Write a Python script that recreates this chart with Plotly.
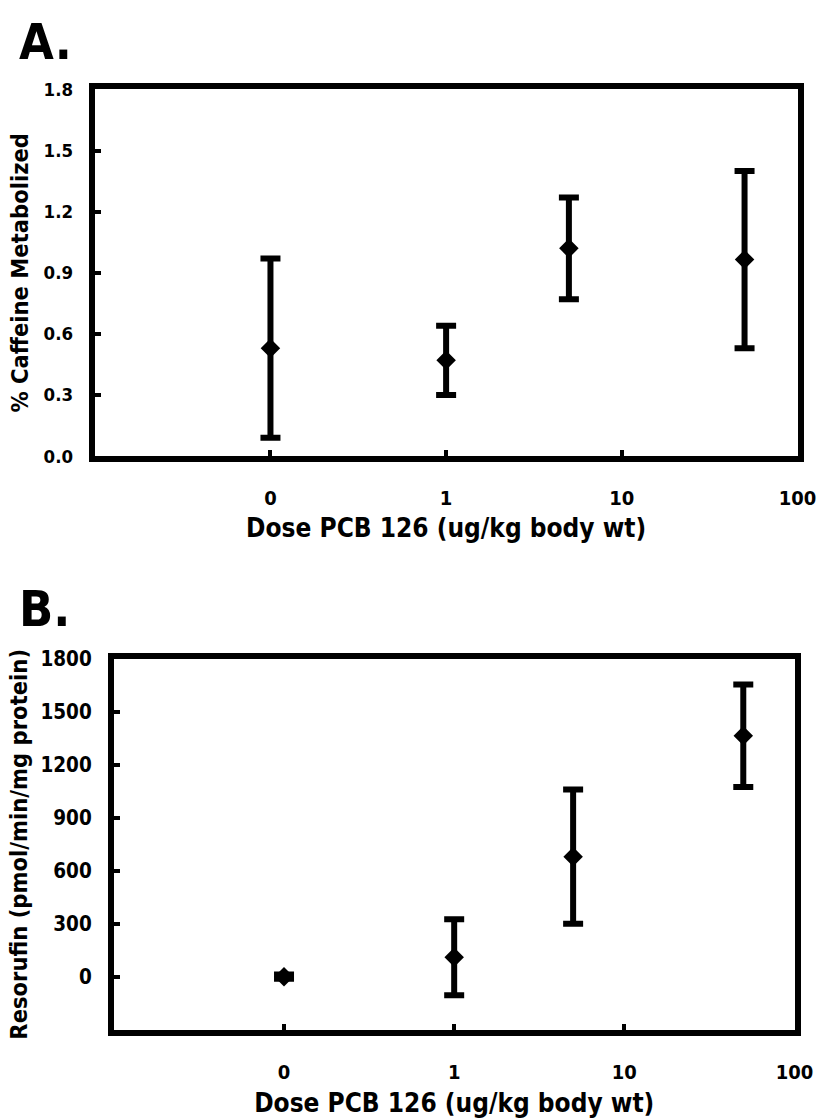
import plotly.graph_objects as go

# Dose groups (ug/kg body wt); the zero-dose group sits at the "0" tick of the log axis
dose = [0, 1, 5, 50]
zero_dose_position = 0.1
dose_tick_values = [0.1, 1, 10, 100]
dose_tick_labels = ["0", "1", "10", "100"]

# Panel A: % caffeine metabolized (mean and error)
caffeine_mean = [0.53, 0.47, 1.02, 0.965]
caffeine_err = [0.44, 0.17, 0.25, 0.435]
caffeine_ticks = [0.0, 0.3, 0.6, 0.9, 1.2, 1.5, 1.8]
caffeine_tick_labels = ["0.0", "0.3", "0.6", "0.9", "1.2", "1.5", "1.8"]

# Panel B: resorufin formation (pmol/min/mg protein)
resorufin_mean = [0, 110, 680, 1365]
resorufin_err = [12, 215, 380, 290]
resorufin_ticks = [0, 300, 600, 900, 1200, 1500, 1800]
resorufin_tick_labels = ["0", "300", "600", "900", "1200", "1500", "1800"]

x_pos = [d if d > 0 else zero_dose_position for d in dose]

FONT = "DejaVu Sans Condensed, DejaVu Sans, Liberation Sans, sans-serif"
W, H = 839, 1118


def heavy(size):
    return dict(family=FONT, size=size, color="black", weight="bold")


def marker_trace(y, err, xa, ya):
    return go.Scatter(
        x=x_pos, y=y, mode="markers",
        marker=dict(symbol="diamond", size=15, color="black"),
        error_y=dict(type="data", array=err, visible=True,
                     color="black", thickness=6, width=10),
        xaxis=xa, yaxis=ya, showlegend=False, cliponaxis=False,
    )


fig = go.Figure()
fig.add_trace(marker_trace(caffeine_mean, caffeine_err, "x", "y"))
fig.add_trace(marker_trace(resorufin_mean, resorufin_err, "x2", "y2"))

axis_common = dict(
    showline=True, linecolor="black", linewidth=6, mirror=True,
    ticks="inside", ticklen=6, tickwidth=4, tickcolor="black",
    showgrid=False, zeroline=False,
)

x_common = dict(
    axis_common, type="log", range=[-2, 2.0005],
    tickmode="array", tickvals=dose_tick_values, ticktext=dose_tick_labels,
    ticklabelstandoff=19, tickfont=heavy(20),
)

fig.update_layout(
    width=W, height=H,
    margin=dict(l=0, r=0, t=0, b=0),
    paper_bgcolor="white", plot_bgcolor="white",
    xaxis=dict(
        x_common, domain=[97 / W, 816 / W], anchor="y",
        title=dict(text="Dose PCB 126 (ug/kg body wt)", standoff=12, font=heavy(26)),
    ),
    yaxis=dict(
        axis_common, domain=[1 - 453 / H, 1 - 79 / H], anchor="x",
        range=[0, 1.8], tickmode="array",
        tickvals=caffeine_ticks, ticktext=caffeine_tick_labels,
        ticklabelstandoff=12, tickfont=heavy(18.5),
        title=dict(text="% Caffeine Metabolized", standoff=10, font=heavy(23.5)),
    ),
    xaxis2=dict(
        x_common, domain=[116.5 / W, 813 / W], anchor="y2",
        title=dict(text="Dose PCB 126 (ug/kg body wt)", standoff=16, font=heavy(26)),
    ),
    yaxis2=dict(
        axis_common, domain=[1 - 1038 / H, 1 - 660 / H], anchor="x2",
        range=[-300, 1800], tickmode="array",
        tickvals=resorufin_ticks, ticktext=resorufin_tick_labels,
        ticklabelstandoff=12, tickfont=heavy(20.5),
        title=dict(text="Resorufin (pmol/min/mg protein)", standoff=8, font=heavy(23.5)),
    ),
    annotations=[
        dict(text="A.", x=17 / W, y=1 - 31 / H, xref="paper", yref="paper",
             xanchor="left", yanchor="middle", showarrow=False, font=heavy(50)),
        dict(text="B.", x=17 / W, y=1 - 609 / H, xref="paper", yref="paper",
             xanchor="left", yanchor="middle", showarrow=False, font=heavy(50)),
    ],
)

fig.write_html("out.html")
